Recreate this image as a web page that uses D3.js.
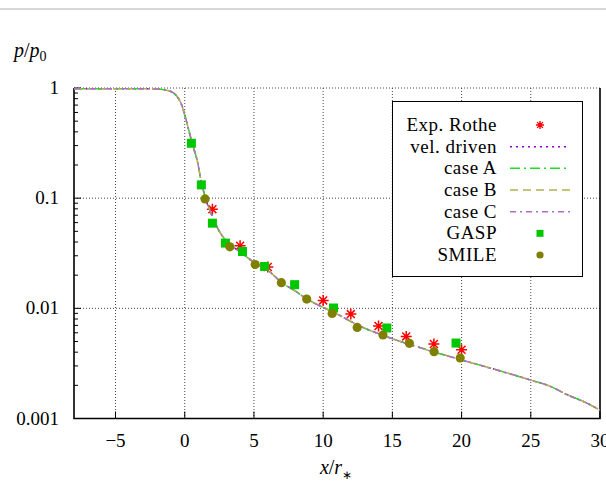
<!DOCTYPE html>
<html>
<head>
<meta charset="utf-8">
<script src="https://cdn.jsdelivr.net/npm/d3@7"></script>
<style>
  body { margin: 0; background: #fff; }
  svg { display: block; }
  text { font-family: "Liberation Serif", "Times New Roman", serif; fill: #000; }
</style>
</head>
<body>
<div id="chart"></div>
<script>
// simulated pressure profile along the axis (all four runs lie on top of each other)
const profileX = [-8, -3, -2, -1.5, -1, -0.5, -0.2, 0, 0.3, 0.55, 0.9, 1.2, 1.5, 2, 2.5, 3, 3.5, 4, 5, 6, 7, 8, 9, 10, 11, 12, 13, 14, 15, 16, 17, 18, 19, 20, 22.5, 25, 26.4, 27.6, 29, 30];
const velDrivenP = [0.985, 0.985, 0.98, 0.965, 0.93, 0.82, 0.69, 0.57, 0.41, 0.31, 0.22, 0.14, 0.1, 0.068, 0.05, 0.041, 0.036, 0.0325, 0.0262, 0.0222, 0.0172, 0.0143, 0.0118, 0.0102, 0.0089, 0.0076, 0.0066, 0.0059, 0.0053, 0.0048, 0.0044, 0.0040, 0.0037, 0.0034, 0.00277, 0.00223, 0.00196, 0.00165, 0.00139, 0.00119];
const caseAP = velDrivenP;
const caseBP = velDrivenP;
const caseCP = velDrivenP;

// experiment (Rothe)
const rotheX = [2, 4, 6, 10, 12, 14, 16, 18, 20];
const rotheP = [0.0795, 0.037, 0.0237, 0.0118, 0.00887, 0.00691, 0.00556, 0.00474, 0.00421];

// GASP
const gaspX = [0.48, 1.2, 2.0, 2.94, 4.17, 5.77, 7.94, 10.75, 14.6, 19.6];
const gaspP = [0.315, 0.132, 0.0593, 0.0391, 0.0328, 0.024, 0.0164, 0.01007, 0.00663, 0.00484];

// SMILE
const smileX = [1.47, 3.26, 5.09, 6.98, 8.81, 10.65, 12.46, 14.32, 16.23, 18.01, 19.9];
const smileP = [0.0985, 0.0362, 0.025, 0.0171, 0.01213, 0.00899, 0.00671, 0.00573, 0.00481, 0.00404, 0.00354];

const xTicks = [-5, 0, 5, 10, 15, 20, 25, 30];
const yTicks = [1, 0.1, 0.01, 0.001];
const yTickLabels = ["1", "0.1", "0.01", "0.001"];

const W = 606, H = 482;
const plot = { left: 74, right: 600, top: 88, bottom: 418.5 };

const svg = d3.select("#chart").append("svg")
  .attr("width", W).attr("height", H);

// thin rule at the very top of the page
svg.append("line")
  .attr("x1", 0).attr("x2", W).attr("y1", 9).attr("y2", 9)
  .attr("stroke", "#c8c8c8").attr("stroke-width", 1.5);

const x = d3.scaleLinear().domain([-8, 30]).range([plot.left, plot.right]);
const y = d3.scaleLog().domain([0.001, 1]).range([plot.bottom, plot.top]);

// grid
const grid = svg.append("g")
  .attr("stroke", "#444").attr("stroke-width", 1).attr("stroke-dasharray", "1,2");
grid.selectAll("line.gx")
  .data(xTicks.filter(d => d < 30))
  .join("line")
  .attr("x1", d => x(d)).attr("x2", d => x(d))
  .attr("y1", plot.top).attr("y2", plot.bottom);
grid.selectAll("line.gy")
  .data(yTicks.filter(d => d > 0.001))
  .join("line")
  .attr("x1", plot.left).attr("x2", plot.right)
  .attr("y1", d => y(d)).attr("y2", d => y(d));

// ticks
const ticks = svg.append("g").attr("stroke", "#000").attr("stroke-width", 1);
ticks.selectAll("line.xt")
  .data(xTicks)
  .join("line")
  .attr("x1", d => x(d)).attr("x2", d => x(d))
  .attr("y1", plot.bottom).attr("y2", plot.bottom - 7);
const minor = [];
[0.001, 0.01, 0.1].forEach(dec => {
  for (let k = 2; k <= 9; k++) minor.push(dec * k);
});
ticks.selectAll("line.ym")
  .data(minor)
  .join("line")
  .attr("x1", plot.left).attr("x2", plot.left + 4)
  .attr("y1", d => y(d)).attr("y2", d => y(d));
ticks.selectAll("line.yt")
  .data(yTicks)
  .join("line")
  .attr("x1", plot.left).attr("x2", plot.left + 7)
  .attr("y1", d => y(d)).attr("y2", d => y(d));

// border (left, bottom, right)
svg.append("path")
  .attr("d", `M${plot.left},${plot.top}V${plot.bottom}H${plot.right}V${plot.top}`)
  .attr("fill", "none").attr("stroke", "#000").attr("stroke-width", 1.6);

// tick labels
svg.append("g")
  .attr("text-anchor", "middle")
  .style("font-size", "19px")
  .selectAll("text")
  .data(xTicks)
  .join("text")
  .attr("x", d => x(d))
  .attr("y", 447)
  .text(d => d < 0 ? "\u2212" + Math.abs(d) : d);

svg.append("g")
  .attr("text-anchor", "end")
  .style("font-size", "19px")
  .selectAll("text")
  .data(yTicks)
  .join("text")
  .attr("x", 59)
  .attr("y", d => y(d) + 6)
  .text((d, i) => yTickLabels[i]);

// axis titles
const xt = svg.append("text")
  .attr("x", 336).attr("y", 474)
  .attr("text-anchor", "middle")
  .style("font-size", "20px");
xt.append("tspan").style("font-style", "italic").text("x");
xt.append("tspan").text("/");
xt.append("tspan").style("font-style", "italic").text("r");
xt.append("tspan").attr("dy", 5).style("font-size", "12px").text("\u2217");

const yt = svg.append("text")
  .attr("x", 14).attr("y", 57)
  .style("font-size", "20px");
yt.append("tspan").style("font-style", "italic").text("p");
yt.append("tspan").text("/");
yt.append("tspan").style("font-style", "italic").text("p");
yt.append("tspan").attr("dy", 4).style("font-size", "14px").text("0");

// series definitions
const lines = [
  { name: "vel. driven", p: velDrivenP, color: "#9400d3", dash: "2,4" },
  { name: "case A", p: caseAP, color: "#22dd22", dash: "10,4,2,4" },
  { name: "case B", p: caseBP, color: "#b0b050", dash: "8,5" },
  { name: "case C", p: caseCP, color: "#b070c0", dash: "6,4,2,4" }
];

svg.append("clipPath").attr("id", "clip")
  .append("rect")
  .attr("x", plot.left).attr("y", plot.top - 2)
  .attr("width", plot.right - plot.left).attr("height", plot.bottom - plot.top + 2);

const lineGen = d3.line()
  .x(d => x(d[0]))
  .y(d => y(d[1]))
  .curve(d3.curveMonotoneX);

const starPath = s => {
  const r = s / 2, q = r * 0.72;
  return `M${-r},0H${r}M0,${-r}V${r}M${-q},${-q}L${q},${q}M${-q},${q}L${q},${-q}`;
};

function drawStars(g, xs, ps) {
  g.selectAll("path")
    .data(xs.map((d, i) => [d, ps[i]]))
    .join("path")
    .attr("transform", d => `translate(${x(d[0])},${y(d[1])})`)
    .attr("d", starPath(11))
    .attr("stroke", "#ff0000").attr("stroke-width", 1.5).attr("fill", "none");
}

// Rothe below lines
drawStars(svg.append("g"), rotheX, rotheP);

const lineG = svg.append("g").attr("clip-path", "url(#clip)");
lines.forEach(s => {
  lineG.append("path")
    .datum(profileX.map((d, i) => [d, s.p[i]]))
    .attr("d", lineGen)
    .attr("fill", "none")
    .attr("stroke", s.color)
    .attr("stroke-width", 1.5)
    .attr("stroke-dasharray", s.dash);
});

svg.append("g")
  .selectAll("rect")
  .data(gaspX.map((d, i) => [d, gaspP[i]]))
  .join("rect")
  .attr("x", d => x(d[0]) - 4.5).attr("y", d => y(d[1]) - 4.5)
  .attr("width", 9).attr("height", 9)
  .attr("fill", "#00c800");

svg.append("g")
  .selectAll("circle")
  .data(smileX.map((d, i) => [d, smileP[i]]))
  .join("circle")
  .attr("cx", d => x(d[0])).attr("cy", d => y(d[1]))
  .attr("r", 4.6)
  .attr("fill", "#808000");

// legend
const legend = svg.append("g");
legend.append("rect")
  .attr("x", 392.5).attr("y", 101.5)
  .attr("width", 190).attr("height", 175)
  .attr("fill", "#fff").attr("stroke", "#000").attr("stroke-width", 1);

const legendItems = ["Exp. Rothe", "vel. driven", "case A", "case B", "case C", "GASP", "SMILE"];
const rowY = i => 125 + i * 21.67;

legend.selectAll("text")
  .data(legendItems)
  .join("text")
  .attr("x", 497)
  .attr("y", (d, i) => rowY(i) + 6)
  .attr("text-anchor", "end")
  .style("font-size", "19px")
  .style("letter-spacing", "0.5px")
  .text(d => d);

legend.append("path")
  .attr("transform", `translate(540,${rowY(0)})`)
  .attr("d", starPath(8))
  .attr("stroke", "#ff0000").attr("stroke-width", 1.4).attr("fill", "none");

lines.forEach((s, i) => {
  legend.append("line")
    .attr("x1", 510).attr("x2", 570)
    .attr("y1", rowY(i + 1)).attr("y2", rowY(i + 1))
    .attr("stroke", s.color).attr("stroke-width", 1.5)
    .attr("stroke-dasharray", s.dash);
});

legend.append("rect")
  .attr("x", 540 - 3.5).attr("y", rowY(5) - 3.5)
  .attr("width", 7).attr("height", 7)
  .attr("fill", "#00c800");
legend.append("circle")
  .attr("cx", 540).attr("cy", rowY(6))
  .attr("r", 3.6)
  .attr("fill", "#808000");
</script>
</body>
</html>
